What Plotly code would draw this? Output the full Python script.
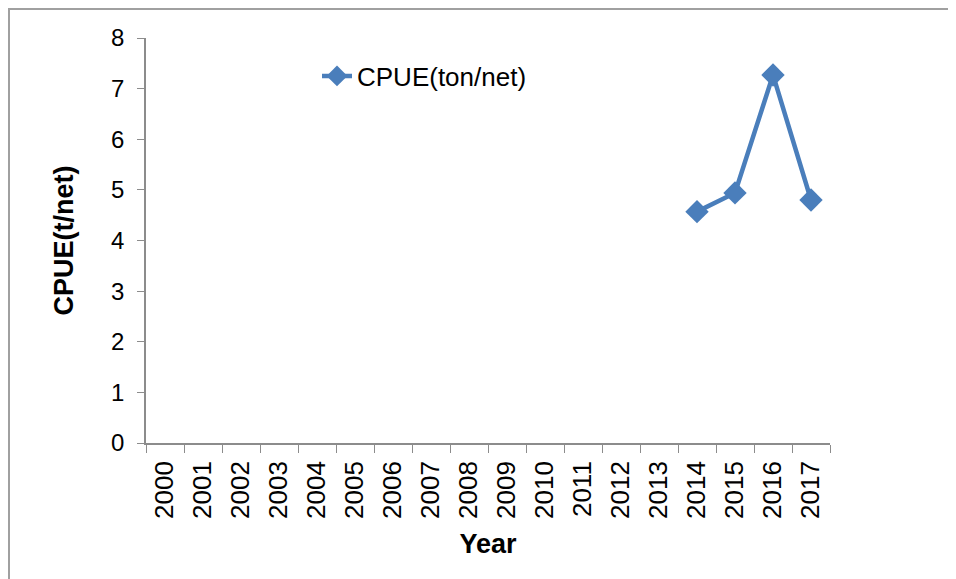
import plotly.graph_objects as go

# Données
annees = [str(a) for a in range(2000, 2018)]
cpue = [None] * 14 + [4.57, 4.94, 7.27, 4.80]
nom_serie = "CPUE(ton/net)"

bleu = "#4A7EBB"
gris = "#8C8C8C"
police = "Liberation Sans, Arial, sans-serif"

fig = go.Figure()
fig.add_trace(
    go.Scatter(
        x=annees,
        y=cpue,
        mode="lines+markers",
        name=nom_serie,
        line=dict(color=bleu, width=4.5),
        marker=dict(symbol="diamond", size=18, color=bleu),
        connectgaps=False,
    )
)

# la page html a une marge de 8 px autour de la figure
fig.update_layout(
    width=948,
    height=571,
    margin=dict(l=138, r=126, t=30, b=136),
    paper_bgcolor="white",
    plot_bgcolor="white",
    font=dict(family=police, size=22, color="black"),
    showlegend=True,
    legend=dict(
        x=0.25,
        y=0.906,
        xanchor="left",
        yanchor="middle",
        bgcolor="rgba(0,0,0,0)",
        font=dict(size=26),
    ),
    xaxis=dict(
        type="category",
        categoryorder="array",
        categoryarray=annees,
        range=[-0.5, 17.5],
        automargin=False,
        showline=True,
        linecolor=gris,
        linewidth=1.5,
        ticks="outside",
        tickson="boundaries",
        ticklen=8,
        tickcolor=gris,
        tickangle=-90,
        tickfont=dict(size=26),
        ticklabelstandoff=6,
        showgrid=False,
        title=dict(text="<b>Year</b>", font=dict(size=27), standoff=16),
    ),
    yaxis=dict(
        range=[0, 8],
        dtick=1,
        automargin=False,
        showline=True,
        linecolor=gris,
        linewidth=1.5,
        ticks="outside",
        ticklen=7,
        tickcolor=gris,
        tickfont=dict(size=24),
        ticklabelstandoff=8,
        showgrid=False,
        zeroline=False,
        title=dict(text="<b>CPUE(t/net)</b>", font=dict(size=27), standoff=30),
    ),
    shapes=[
        dict(
            type="rect",
            xref="paper",
            yref="paper",
            x0=(9 - 146) / 684,
            x1=1.3,
            y0=-0.5,
            y1=1 + 29 / 405,
            line=dict(color="#A0A0A0", width=2),
            fillcolor="rgba(0,0,0,0)",
            layer="below",
        )
    ],
)

fig.write_html("out.html")
